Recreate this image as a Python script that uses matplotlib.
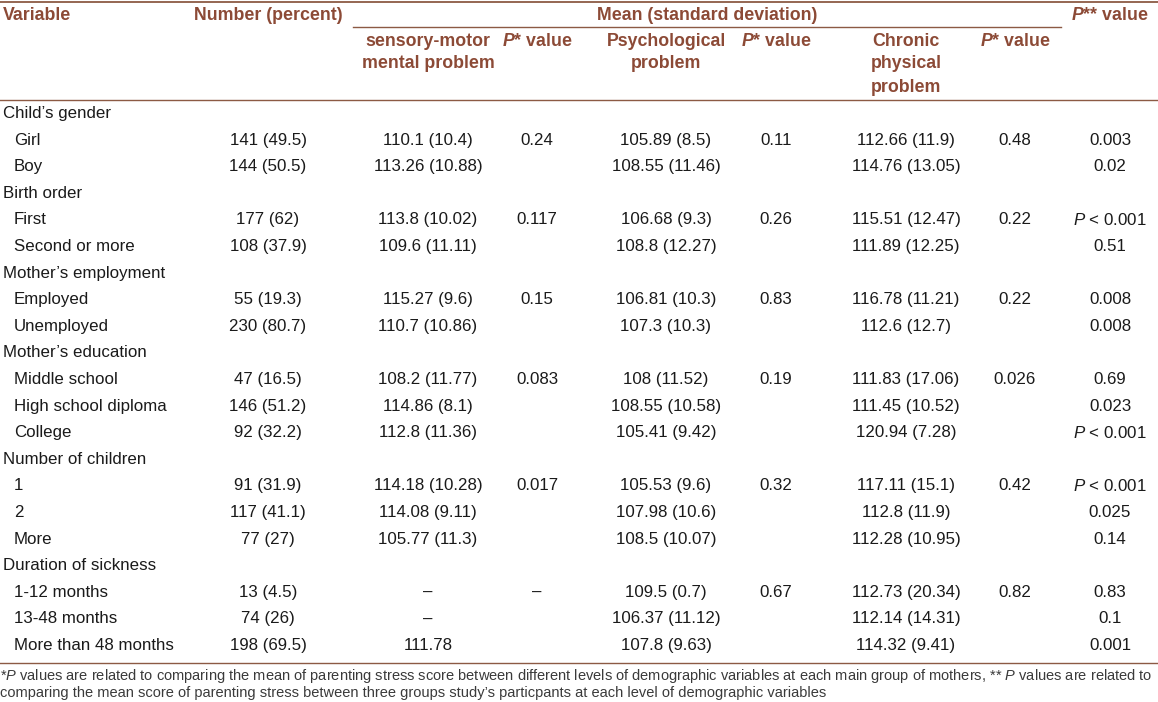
import matplotlib
matplotlib.use("Agg")
import matplotlib.pyplot as plt
from matplotlib.lines import Line2D

# table content
groups = ["Child’s gender", "Birth order", "Mother’s employment",
          "Mother’s education", "Number of children", "Duration of sickness"]
levels = [["Girl", "Boy"],
          ["First", "Second or more"],
          ["Employed", "Unemployed"],
          ["Middle school", "High school diploma", "College"],
          ["1", "2", "More"],
          ["1-12 months", "13-48 months", "More than 48 months"]]
counts = ["141 (49.5)", "144 (50.5)", "177 (62)", "108 (37.9)", "55 (19.3)",
          "230 (80.7)", "47 (16.5)", "146 (51.2)", "92 (32.2)", "91 (31.9)",
          "117 (41.1)", "77 (27)", "13 (4.5)", "74 (26)", "198 (69.5)"]
sensory = ["110.1 (10.4)", "113.26 (10.88)", "113.8 (10.02)", "109.6 (11.11)",
           "115.27 (9.6)", "110.7 (10.86)", "108.2 (11.77)", "114.86 (8.1)",
           "112.8 (11.36)", "114.18 (10.28)", "114.08 (9.11)", "105.77 (11.3)",
           "–", "–", "111.78"]
p_sensory = ["0.24", "0.117", "0.15", "0.083", "0.017", "–"]
psych = ["105.89 (8.5)", "108.55 (11.46)", "106.68 (9.3)", "108.8 (12.27)",
         "106.81 (10.3)", "107.3 (10.3)", "108 (11.52)", "108.55 (10.58)",
         "105.41 (9.42)", "105.53 (9.6)", "107.98 (10.6)", "108.5 (10.07)",
         "109.5 (0.7)", "106.37 (11.12)", "107.8 (9.63)"]
p_psych = ["0.11", "0.26", "0.83", "0.19", "0.32", "0.67"]
chronic = ["112.66 (11.9)", "114.76 (13.05)", "115.51 (12.47)", "111.89 (12.25)",
           "116.78 (11.21)", "112.6 (12.7)", "111.83 (17.06)", "111.45 (10.52)",
           "120.94 (7.28)", "117.11 (15.1)", "112.8 (11.9)", "112.28 (10.95)",
           "112.73 (20.34)", "112.14 (14.31)", "114.32 (9.41)"]
p_chronic = ["0.48", "0.22", "0.22", "0.026", "0.42", "0.82"]
p_between = ["0.003", "0.02", "P < 0.001", "0.51", "0.008", "0.008", "0.69",
             "0.023", "P < 0.001", "P < 0.001", "0.025", "0.14", "0.83", "0.1",
             "0.001"]

footnote1 = ("*$\\mathit{P}$ values are related to comparing the mean of parenting stress score "
             "between different levels of demographic variables at each main group of mothers, "
             "** $\\mathit{P}$ values are related to")
footnote2 = ("comparing the mean score of parenting stress between three groups "
             "study’s particpants at each level of demographic variables")

plt.rcParams["font.family"] = ["Liberation Sans", "DejaVu Sans"]
plt.rcParams["mathtext.fontset"] = "custom"
plt.rcParams["mathtext.rm"] = "Liberation Sans"
plt.rcParams["mathtext.it"] = "Liberation Sans:italic"
plt.rcParams["mathtext.bf"] = "Liberation Sans:bold"
plt.rcParams["mathtext.bfit"] = "Liberation Sans:bold:italic"

W, H = 1158, 702
fig = plt.figure(figsize=(W / 100, H / 100), dpi=100)
fig.patch.set_facecolor("white")

head_col = "#8c4a36"
line_col = "#8c5a44"
body_col = "#1a1a1a"
foot_col = "#3a3a3a"


def put(x, y, s, ha="center", **kw):
    fig.text(x / W, 1 - y / H, s, ha=ha, va="center", **kw)


def hline(x0, x1, y, lw=1.0):
    fig.add_artist(Line2D([x0 / W, x1 / W], [1 - y / H, 1 - y / H],
                          transform=fig.transFigure, color=line_col, lw=lw))


def fmt(s):
    if s.startswith("P <"):
        return "$\\mathit{P}$" + s[1:]
    return s


# header
hfs = 12.8
hkw = dict(fontsize=hfs, fontweight="bold", color=head_col)
hline(0, W, 1.5, lw=1.3)
put(3, 15, "Variable", ha="left", **hkw)
put(268, 15, "Number (percent)", **hkw)
put(707, 15, "Mean (standard deviation)", **hkw)
put(1110, 15, "$\\mathbfit{P}$** value", **hkw)
hline(353, 1061, 27)
put(428, 41, "sensory-motor", **hkw)
put(428, 64, "mental problem", **hkw)
put(537, 41, "$\\mathbfit{P}$* value", **hkw)
put(666, 41, "Psychological", **hkw)
put(666, 64, "problem", **hkw)
put(776, 41, "$\\mathbfit{P}$* value", **hkw)
put(906, 41, "Chronic", **hkw)
put(906, 64, "physical", **hkw)
put(906, 88, "problem", **hkw)
put(1015, 41, "$\\mathbfit{P}$* value", **hkw)
hline(0, W, 100)

# body
bkw = dict(fontsize=12.2, color=body_col)
y = 113.5
step = 26.6
i = 0
for g, group in enumerate(groups):
    put(3, y, group, ha="left", **bkw)
    y += step
    for j, lev in enumerate(levels[g]):
        put(14, y, lev, ha="left", **bkw)
        put(268, y, counts[i], **bkw)
        put(428, y, sensory[i], **bkw)
        put(666, y, psych[i], **bkw)
        put(906, y, chronic[i], **bkw)
        put(1110, y, fmt(p_between[i]), **bkw)
        if j == 0:
            put(537, y, p_sensory[g], **bkw)
            put(776, y, p_psych[g], **bkw)
            put(1015, y, p_chronic[g], **bkw)
        y += step
        i += 1

hline(0, W, 663)

# footnote
put(0, 676, footnote1, ha="left", fontsize=10.5, color=foot_col)
put(0, 693, footnote2, ha="left", fontsize=10.5, color=foot_col)

fig.savefig("out.png", dpi=100, facecolor="white")
